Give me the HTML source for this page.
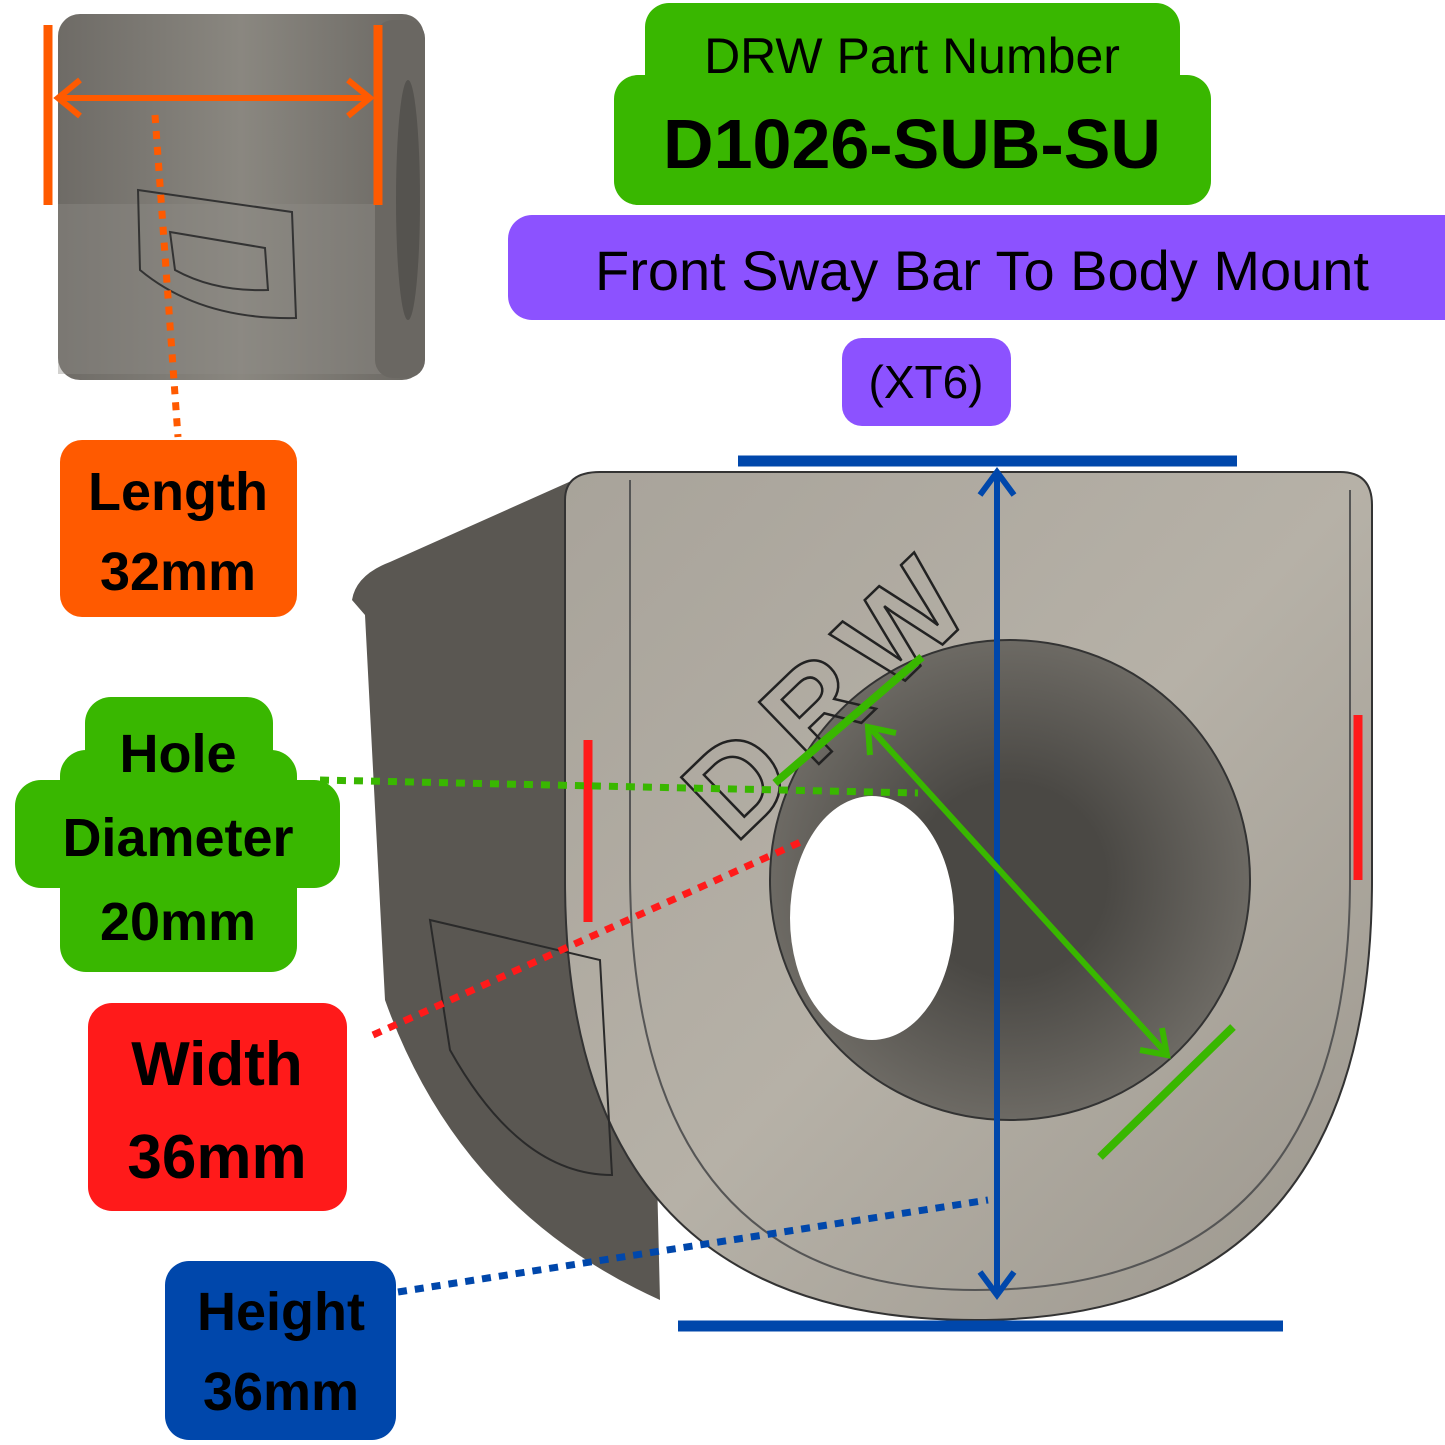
<!DOCTYPE html>
<html><head><meta charset="utf-8"><style>
html,body{margin:0;padding:0;background:#fff;}
svg{display:block;}
text{font-family:"Liberation Sans",sans-serif;}
</style></head><body>
<svg width="1445" height="1445" viewBox="0 0 1445 1445" xmlns="http://www.w3.org/2000/svg">
<defs>
<linearGradient id="sg" x1="0" y1="0" x2="1" y2="0">
<stop offset="0" stop-color="#6e6b66"/><stop offset="0.5" stop-color="#8a8780"/><stop offset="1" stop-color="#6a6762"/></linearGradient>
<linearGradient id="fg" x1="0" y1="0" x2="1" y2="1">
<stop offset="0" stop-color="#a8a39a"/><stop offset="0.5" stop-color="#b6b1a7"/><stop offset="1" stop-color="#9b968d"/></linearGradient>
<radialGradient id="hg" cx="0.5" cy="0.5" r="0.5">
<stop offset="0.4" stop-color="#4a4844"/><stop offset="1" stop-color="#6d6a64"/></radialGradient>
</defs>
<!-- small top-left part -->
<rect x="58" y="14" width="366" height="366" rx="22" fill="url(#sg)"/>
<rect x="58" y="204" width="330" height="170" fill="#8f8c86" opacity="0.4"/>
<rect x="375" y="20" width="50" height="358" rx="18" fill="#6a6762"/>
<ellipse cx="408" cy="200" rx="12" ry="120" fill="#55534f"/>
<path d="M138 190 L292 212 L296 318 Q200 320 140 270 Z" fill="none" stroke="#333" stroke-width="2"/>
<path d="M170 232 L265 248 L268 290 Q215 292 175 270 Z" fill="none" stroke="#333" stroke-width="2"/>
<line x1="48" y1="25" x2="48" y2="205" stroke="#ff5a00" stroke-width="9"/>
<line x1="378" y1="25" x2="378" y2="205" stroke="#ff5a00" stroke-width="9"/>
<line x1="60" y1="98" x2="370" y2="98" stroke="#ff5a00" stroke-width="6"/>
<path d="M80 80 L58 98 L80 116" fill="none" stroke="#ff5a00" stroke-width="6"/>
<path d="M348 80 L370 98 L348 116" fill="none" stroke="#ff5a00" stroke-width="6"/>
<line x1="155" y1="115" x2="178" y2="437" stroke="#ff5a00" stroke-width="7" stroke-dasharray="8 8"/>
<!-- main part -->
<path d="M352 600 Q356 575 390 562 L578 478 L640 478 L660 1300 Q460 1210 385 1000 L365 615 Z" fill="#5a5752"/>
<path d="M565 500 Q565 472 600 472 L1340 472 Q1372 472 1372 505 L1372 880 Q1372 1320 975 1320 Q565 1320 565 880 Z" fill="url(#fg)" stroke="#333" stroke-width="2"/>
<path d="M630 480 L630 870 Q630 1290 975 1290 Q1350 1290 1350 880 L1350 490" fill="none" stroke="#555" stroke-width="2"/>
<circle cx="1010" cy="880" r="240" fill="url(#hg)" stroke="#333" stroke-width="2"/>
<ellipse cx="872" cy="918" rx="82" ry="122" fill="#fff"/>
<path d="M430 920 L600 960 L612 1175 Q520 1175 450 1050 Z" fill="none" stroke="#2a2a2a" stroke-width="2"/>
<text x="735" y="845" font-size="125" font-weight="bold" fill="none" stroke="#222" stroke-width="2.5" letter-spacing="18" transform="rotate(-44 735 845)">DRW</text>
<!-- blue dims -->
<line x1="738" y1="461" x2="1237" y2="461" stroke="#0047ab" stroke-width="11"/>
<line x1="678" y1="1326" x2="1283" y2="1326" stroke="#0047ab" stroke-width="11"/>
<line x1="997" y1="475" x2="997" y2="1292" stroke="#0047ab" stroke-width="6"/>
<path d="M980 495 L997 472 L1014 495" fill="none" stroke="#0047ab" stroke-width="6"/>
<path d="M980 1272 L997 1295 L1014 1272" fill="none" stroke="#0047ab" stroke-width="6"/>
<!-- red marks -->
<line x1="588" y1="740" x2="588" y2="922" stroke="#ff1a1a" stroke-width="9"/>
<line x1="1358" y1="715" x2="1358" y2="880" stroke="#ff1a1a" stroke-width="9"/>
<!-- green dims -->
<line x1="775" y1="783" x2="922" y2="657" stroke="#39b700" stroke-width="8"/>
<line x1="1100" y1="1157" x2="1233" y2="1027" stroke="#39b700" stroke-width="8"/>
<line x1="872" y1="730" x2="1165" y2="1052" stroke="#39b700" stroke-width="6"/>
<path d="M870 755 L868 727 L896 733" fill="none" stroke="#39b700" stroke-width="6"/>
<path d="M1140 1050 L1167 1055 L1162 1028" fill="none" stroke="#39b700" stroke-width="6"/>
<!-- dotted leaders -->
<line x1="320" y1="780" x2="918" y2="793" stroke="#39b700" stroke-width="7" stroke-dasharray="9 8"/>
<line x1="373" y1="1035" x2="805" y2="840" stroke="#ff1a1a" stroke-width="7" stroke-dasharray="9 8"/>
<line x1="398" y1="1292" x2="988" y2="1200" stroke="#0047ab" stroke-width="7" stroke-dasharray="9 8"/>
<!-- title boxes -->
<rect x="645" y="3" width="535" height="100" rx="24" fill="#39b700"/>
<rect x="614" y="75" width="597" height="130" rx="24" fill="#39b700"/>
<text x="912" y="73" font-size="50" text-anchor="middle" fill="#000">DRW Part Number</text>
<text x="912" y="168" font-size="70" font-weight="bold" text-anchor="middle" fill="#000">D1026-SUB-SU</text>
<rect x="508" y="215" width="960" height="105" rx="24" fill="#8c52ff"/>
<text x="982" y="290" font-size="56" text-anchor="middle" fill="#000">Front Sway Bar To Body Mount</text>
<rect x="842" y="338" width="169" height="88" rx="20" fill="#8c52ff"/>
<text x="926" y="398" font-size="46" text-anchor="middle" fill="#000">(XT6)</text>
<!-- label boxes -->
<rect x="60" y="440" width="237" height="177" rx="22" fill="#ff5a00"/>
<text x="178" y="510" font-size="54" font-weight="bold" text-anchor="middle">Length</text>
<text x="178" y="590" font-size="54" font-weight="bold" text-anchor="middle">32mm</text>
<rect x="85" y="697" width="188" height="275" rx="26" fill="#39b700"/>
<rect x="15" y="780" width="325" height="108" rx="26" fill="#39b700"/>
<rect x="60" y="750" width="237" height="222" rx="26" fill="#39b700"/>
<text x="178" y="772" font-size="54" font-weight="bold" text-anchor="middle">Hole</text>
<text x="178" y="856" font-size="54" font-weight="bold" text-anchor="middle">Diameter</text>
<text x="178" y="940" font-size="54" font-weight="bold" text-anchor="middle">20mm</text>
<rect x="88" y="1003" width="259" height="208" rx="24" fill="#ff1a1a"/>
<text x="217" y="1085" font-size="62" font-weight="bold" text-anchor="middle">Width</text>
<text x="217" y="1178" font-size="62" font-weight="bold" text-anchor="middle">36mm</text>
<rect x="165" y="1261" width="231" height="179" rx="24" fill="#0047ab"/>
<text x="281" y="1330" font-size="54" font-weight="bold" text-anchor="middle">Height</text>
<text x="281" y="1410" font-size="54" font-weight="bold" text-anchor="middle">36mm</text>
</svg>
</body></html>
